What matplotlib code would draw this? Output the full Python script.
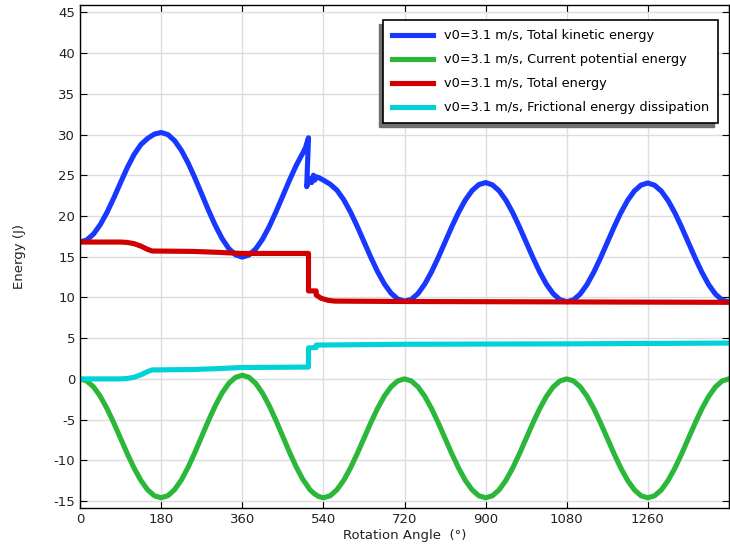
import numpy as np
import matplotlib
matplotlib.use("Agg")
import matplotlib.pyplot as plt
from matplotlib.patches import Rectangle
from matplotlib.transforms import IdentityTransform

plt.rcParams["axes.unicode_minus"] = False

# potential energy (green)
pe_angle = [0, 15, 30, 45, 60, 75, 90, 105, 120, 135, 150, 165, 180,
            195, 210, 225, 240, 255, 270, 285, 300, 315, 330, 345, 360,
            375, 390, 405, 420, 435, 450, 465, 480, 495, 503,
            510, 520, 530, 540,
            555, 570, 585, 600, 615, 630, 645, 660, 675, 690, 705, 720,
            735, 750, 765, 780, 795, 810, 825, 840, 855, 870, 885, 900,
            915, 930, 945, 960, 975, 990, 1005, 1020, 1035, 1050, 1065, 1080,
            1095, 1110, 1125, 1140, 1155, 1170, 1185, 1200, 1215, 1230, 1245, 1260,
            1275, 1290, 1305, 1320, 1335, 1350, 1365, 1380, 1395, 1410, 1425, 1440]
pe_val = [0, -0.25, -0.98, -2.14, -3.65, -5.41, -7.3, -9.19, -10.95, -12.46, -13.62, -14.35, -14.6,
          -14.34, -13.59, -12.40, -10.84, -9.02, -7.07, -5.13, -3.31, -1.75, -0.56, 0.19, 0.45,
          0.19, -0.56, -1.75, -3.31, -5.13, -7.07, -9.02, -10.84, -12.40, -13.0,
          -13.6, -14.1, -14.45, -14.6,
          -14.35, -13.62, -12.46, -10.95, -9.19, -7.3, -5.41, -3.65, -2.14, -0.98, -0.25, 0,
          -0.25, -0.98, -2.14, -3.65, -5.41, -7.3, -9.19, -10.95, -12.46, -13.62, -14.35, -14.6,
          -14.35, -13.62, -12.46, -10.95, -9.19, -7.3, -5.41, -3.65, -2.14, -0.98, -0.25, 0,
          -0.25, -0.98, -2.14, -3.65, -5.41, -7.3, -9.19, -10.95, -12.46, -13.62, -14.35, -14.6,
          -14.35, -13.62, -12.46, -10.95, -9.19, -7.3, -5.41, -3.65, -2.14, -0.98, -0.25, 0]

# kinetic energy (blue)
ke_angle = [0, 15, 30, 45, 60, 75, 90, 105, 120, 135, 150, 165, 180,
            195, 210, 225, 240, 255, 270, 285, 300, 315, 330, 345, 360,
            375, 390, 405, 420, 435, 450, 465, 480, 495, 500,
            507, 503, 510, 514, 518, 521, 525, 530, 540,
            555, 570, 585, 600, 615, 630, 645, 660, 675, 690, 705, 720,
            735, 750, 765, 780, 795, 810, 825, 840, 855, 870, 885, 900,
            915, 930, 945, 960, 975, 990, 1005, 1020, 1035, 1050, 1065, 1080,
            1095, 1110, 1125, 1140, 1155, 1170, 1185, 1200, 1215, 1230, 1245, 1260,
            1275, 1290, 1305, 1320, 1335, 1350, 1365, 1380, 1395, 1410, 1425, 1440]
ke_val = [16.8, 17.05, 17.78, 18.94, 20.45, 22.21, 24.1, 25.94, 27.55, 28.76, 29.52, 30.05, 30.25,
          29.99, 29.24, 28.05, 26.49, 24.66, 22.69, 20.71, 18.86, 17.25, 16.01, 15.23, 14.95,
          15.21, 15.96, 17.15, 18.71, 20.53, 22.47, 24.42, 26.24, 27.8, 28.35,
          29.6, 23.6, 24.6, 24.1, 25.0, 24.4, 24.8, 24.7, 24.4,
          23.9, 23.17, 22.01, 20.5, 18.74, 16.85, 14.96, 13.2, 11.69, 10.53, 9.8, 9.55,
          9.75, 10.48, 11.64, 13.15, 14.91, 16.8, 18.69, 20.45, 21.96, 23.12, 23.85, 24.1,
          23.82, 23.09, 21.93, 20.42, 18.66, 16.77, 14.88, 13.12, 11.61, 10.45, 9.72, 9.47,
          9.7, 10.43, 11.59, 13.1, 14.86, 16.75, 18.64, 20.4, 21.91, 23.07, 23.8, 24.05,
          23.77, 23.04, 21.88, 20.37, 18.61, 16.72, 14.83, 13.07, 11.56, 10.4, 9.67, 9.42]

# total energy (red)
tot_angle = [0, 90, 105, 120, 135, 150, 160, 250, 300, 360, 507, 507, 524, 524,
             535, 550, 565, 720, 1080, 1440]
tot_val = [16.8, 16.8, 16.75, 16.6, 16.3, 15.9, 15.7, 15.65, 15.55, 15.4, 15.4, 10.8, 10.8, 10.3,
           9.9, 9.65, 9.55, 9.5, 9.45, 9.4]

# frictional dissipation (cyan)
fr_angle = [0, 90, 105, 120, 135, 150, 160, 250, 300, 360, 507, 507, 524, 524, 720, 1080, 1440]
fr_val = [0, 0, 0.05, 0.2, 0.5, 0.9, 1.1, 1.15, 1.25, 1.4, 1.45, 3.8, 3.85, 4.15, 4.25, 4.3, 4.4]

labels = ["v0=3.1 m/s, Total kinetic energy",
          "v0=3.1 m/s, Current potential energy",
          "v0=3.1 m/s, Total energy",
          "v0=3.1 m/s, Frictional energy dissipation"]
colors = ["#1838ff", "#2bb83a", "#d00000", "#00d2d8"]

fig = plt.figure(figsize=(7.3, 5.5), dpi=100)
ax = fig.add_axes([80 / 730, 1 - 508 / 550, 649 / 730, 503 / 550])

lw = 3.7
ax.plot(ke_angle, ke_val, color=colors[0], lw=lw, label=labels[0], solid_joinstyle="round")
ax.plot(pe_angle, pe_val, color=colors[1], lw=lw, label=labels[1], solid_joinstyle="round")
ax.plot(tot_angle, tot_val, color=colors[2], lw=lw, label=labels[2])
ax.plot(fr_angle, fr_val, color=colors[3], lw=lw, label=labels[3])

ax.set_xlim(0, 1440)
ax.set_ylim(-15.85, 45.9)
ax.set_xticks(np.arange(0, 1441, 180))
ax.set_xticklabels([str(t) for t in range(0, 1441, 180)][:-1] + [""])
ax.set_yticks(np.arange(-15, 46, 5))
ax.grid(True, color="#dddddd", lw=1)
ax.set_axisbelow(True)
ax.tick_params(direction="in", top=True, right=True, labelsize=9.5, length=5,
               colors="black", labelcolor="#222222")
for s in ax.spines.values():
    s.set_linewidth(1)

ax.set_xlabel("Rotation Angle  (°)", fontsize=9.5, color="#222222", labelpad=2)
ax.set_ylabel("Energy (J)", fontsize=9.5, color="#222222", labelpad=20)

leg = ax.legend(loc="upper right", bbox_to_anchor=(0.983, 0.970), borderaxespad=0,
                fancybox=False, framealpha=1, edgecolor="black", fontsize=9.3,
                handlelength=3.2, labelspacing=0.85, borderpad=0.7)
leg.get_frame().set_linewidth(1.2)
leg.set_zorder(6)

fig.canvas.draw()
bb = leg.get_window_extent()
ax.add_patch(Rectangle((bb.x0 - 4, bb.y0 - 4), bb.width, bb.height,
                       transform=IdentityTransform(), color="#707070",
                       zorder=5.5, clip_on=False))

fig.savefig("out.png", dpi=100)
